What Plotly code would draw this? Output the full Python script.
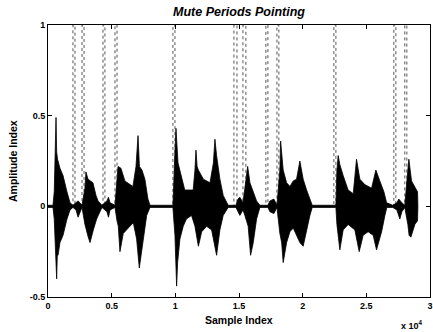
import plotly.graph_objects as go

# ---- data (sample index, amplitude) ----
top_x = [0, 390, 490, 590, 630, 680, 750, 940, 1180, 1490, 1730, 1960, 2200, 2360, 2510, 2670,
         2900, 2980, 3140, 3300, 3530, 3770, 3930, 4240, 4630, 4750, 4870, 5260, 5420, 5500,
         5730, 6040, 6440, 6670, 6910, 7070, 7180, 7380, 7610, 7850, 8010, 9810, 9970, 10050,
         10210, 10480, 10740, 11130, 11400, 11540, 11620, 11710, 11810, 12200, 12720, 12990, 13110, 13240,
         13500, 13760, 14150, 14760, 14920, 15070, 15310, 15460, 15680, 15860, 16120, 16380,
         16640, 17270, 17430, 17740, 17980, 18210, 18270, 18470, 18740, 19000, 19260, 19520,
         19780, 20040, 20310, 20570, 20750, 22610, 22690, 22790, 22920, 23180, 23570, 23970,
         24230, 24490, 24880, 25410, 25750, 26060, 26380, 26590, 27080, 27400, 27550, 27790,
         28020, 28260, 28340, 28550, 28810, 29020, 29050]
top_y = [0.006, 0.006, 0.08, 0.3, 0.49, 0.3, 0.26, 0.21, 0.17, 0.08, 0.02, 0.006, 0.02, 0.03, 0.02, 0.006,
         0.1, 0.19, 0.15, 0.14, 0.13, 0.06, 0.03, 0.006, 0.03, 0.05, 0.02, 0.006, 0.15, 0.22,
         0.21, 0.14, 0.12, 0.11, 0.22, 0.39, 0.22, 0.2, 0.15, 0.04, 0.006, 0.006, 0.3, 0.43,
         0.24, 0.17, 0.09, 0.09, 0.09, 0.2, 0.31, 0.22, 0.2, 0.15, 0.13, 0.24, 0.37, 0.28,
         0.15, 0.06, 0.006, 0.006, 0.04, 0.05, 0.02, 0.1, 0.22, 0.13, 0.08, 0.03,
         0.006, 0.006, 0.03, 0.04, 0.006, 0.2, 0.36, 0.2, 0.13, 0.11, 0.14, 0.15,
         0.25, 0.15, 0.09, 0.04, 0.006, 0.006, 0.2, 0.28, 0.23, 0.17, 0.09, 0.07,
         0.26, 0.15, 0.12, 0.1, 0.2, 0.14, 0.08, 0.02, 0.006, 0.02, 0.04, 0.02,
         0.006, 0.2, 0.26, 0.14, 0.11, 0.08, 0.0]

bot_x = [0, 390, 490, 600, 680, 730, 790, 940, 1180, 1490, 1730, 1960, 2200, 2360, 2510, 2670,
         2900, 3160, 3300, 3560, 3820, 4080, 4240, 4630, 4750, 4870, 5260, 5420, 5520, 5650,
         5910, 6300, 6700, 6960, 7170, 7480, 7750, 8010, 9810, 9970, 10100, 10180, 10210, 10360,
         10620, 10870, 11270, 11540, 11810, 12070, 12460, 12850, 13240, 13500, 13760, 14150,
         14760, 14920, 15070, 15310, 15460, 15720, 15910, 16120, 16380, 16640, 17270, 17430,
         17740, 17980, 18210, 18350, 18470, 18740, 19000, 19260, 19520, 19780, 20040, 20310,
         20570, 20750, 22610, 22690, 22790, 22920, 23180, 23570, 24100, 24440, 24750, 25140,
         25540, 25800, 26200, 26460, 26610, 27080, 27400, 27630, 27790, 28020, 28260, 28360,
         28500, 28810, 29020, 29050]
bot_y = [-0.006, -0.006, -0.07, -0.2, -0.40, -0.27, -0.27, -0.2, -0.16, -0.07, -0.02, -0.006, -0.02, -0.06, -0.03, -0.006,
         -0.1, -0.17, -0.2, -0.13, -0.07, -0.03, -0.006, -0.03, -0.06, -0.02, -0.006, -0.08, -0.11, -0.25,
         -0.15, -0.12, -0.09, -0.18, -0.34, -0.18, -0.05, -0.006, -0.006, -0.16, -0.44, -0.31, -0.31, -0.18,
         -0.11, -0.07, -0.05, -0.11, -0.22, -0.14, -0.11, -0.13, -0.27, -0.13, -0.05, -0.006,
         -0.006, -0.03, -0.05, -0.02, -0.05, -0.11, -0.27, -0.2, -0.07, -0.006, -0.006, -0.03,
         -0.04, -0.006, -0.15, -0.2, -0.31, -0.2, -0.14, -0.12, -0.16, -0.2, -0.22, -0.14,
         -0.05, -0.006, -0.006, -0.1, -0.16, -0.24, -0.13, -0.1, -0.13, -0.25, -0.16, -0.14,
         -0.16, -0.24, -0.14, -0.05, -0.006, -0.006, -0.02, -0.07, -0.03, -0.006, -0.1, -0.16,
         -0.17, -0.1, -0.08, 0.0]

mute_start = [1960, 2670, 4320, 5260, 9810, 14600, 15310, 17110, 17980, 22450, 27160, 28020]
mute_end = [2120, 2830, 4470, 5420, 9970, 14840, 15540, 17270, 18130, 22610, 27320, 28180]
signal_end = 29050

x_tickvals = [0, 5000, 10000, 15000, 20000, 25000, 30000]
x_ticktext = ["0", "0.5", "1", "1.5", "2", "2.5", "3"]
y_tickvals = [-0.5, 0, 0.5, 1]
y_ticktext = ["-0.5", "0", "0.5", "1"]

# ---- build traces ----
env_x = top_x + bot_x[::-1]
env_y = top_y + bot_y[::-1]

px, py = [0], [0]
for s, e in zip(mute_start, mute_end):
    px += [s, s, e, e]
    py += [0, 1, 1, 0]
px.append(signal_end)
py.append(0)

fig = go.Figure()
fig.add_trace(go.Scatter(x=px, y=py, mode="lines",
                         line=dict(color="#555555", width=1, dash="dot"),
                         hoverinfo="skip", showlegend=False))
fig.add_trace(go.Scatter(x=env_x, y=env_y, mode="lines", fill="toself",
                         fillcolor="black", line=dict(color="black", width=0.8),
                         hoverinfo="skip", showlegend=False))

font = "Liberation Sans, Arial, sans-serif"
axis_common = dict(showgrid=False, zeroline=False, showline=True, linecolor="black",
                   linewidth=1, mirror="ticks", ticks="inside", ticklen=4,
                   tickcolor="black", automargin=False,
                   tickfont=dict(family=font, size=9, color="black", weight="bold"))

fig.update_layout(
    width=433, height=332,
    margin=dict(l=48, r=3, t=25, b=35),
    paper_bgcolor="white", plot_bgcolor="white",
    xaxis=dict(range=[0, 30000], tickvals=x_tickvals, ticktext=x_ticktext, **axis_common),
    yaxis=dict(range=[-0.5, 1], tickvals=y_tickvals, ticktext=y_ticktext, **axis_common),
    annotations=[
        dict(text="<b><i>Mute Periods Pointing</i></b>", xref="paper", yref="paper",
             x=0.5, y=1, yshift=13, showarrow=False, xanchor="center", yanchor="middle",
             font=dict(family=font, size=12.5, color="black")),
        dict(text="<b>Sample Index</b>", xref="paper", yref="paper",
             x=0.5, y=0, yshift=-23, showarrow=False, xanchor="center", yanchor="middle",
             font=dict(family=font, size=10.5, color="black")),
        dict(text="<b>Amplitude Index</b>", xref="paper", yref="paper",
             x=0, xshift=-35, y=0.5, showarrow=False, xanchor="center", yanchor="middle",
             textangle=-90, font=dict(family=font, size=10.5, color="black")),
        dict(text="<b>x 10<sup>4</sup></b>", xref="paper", yref="paper",
             x=0.92, y=0, yshift=-28, showarrow=False, xanchor="left", yanchor="middle",
             font=dict(family=font, size=9, color="black")),
    ],
)

fig.write_html("out.html", config={"displayModeBar": False},
               post_script="document.body.style.margin='0';")
